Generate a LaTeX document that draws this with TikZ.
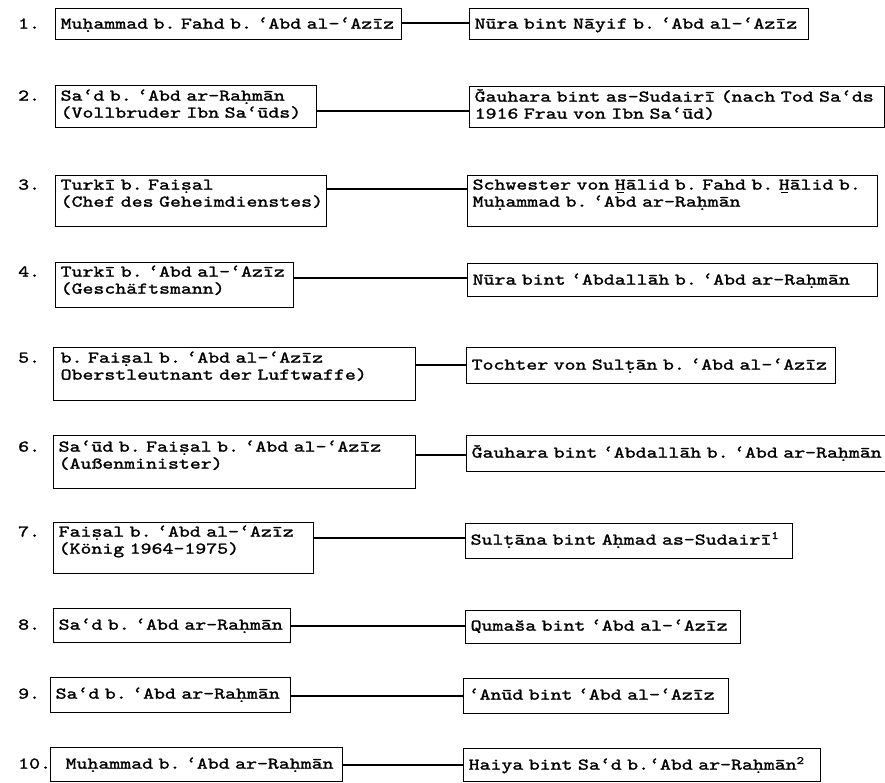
\documentclass[tikz,border=0pt]{standalone}
\usepackage{fontspec}
\newfontfamily\twfam{lmmono10-regular.otf}[FakeStretch=1.27,FakeBold=1.5]
\newcommand\zU[2]{\iffontchar\font"#1\relax\char"#1\relax\else#2\fi}
\newcommand\zdb[1]{\ooalign{#1\cr\hidewidth\rule[-0.22em]{0.11em}{0.11em}\hidewidth\cr}}
\newcommand\zh{\zU{1E25}{\zdb{h}}}
\newcommand\zs{\zU{1E63}{\zdb{s}}}
\newcommand\zt{\zU{1E6D}{\zdb{t}}}
\newcommand\za{\char"2018\relax}
\newcommand\zG{\zU{01E6}{\ooalign{G\cr\hidewidth\raisebox{0.22em}{\char"02C7\relax}\hidewidth\cr}}}
\newcommand\zH{\ooalign{H\cr\hidewidth\rule[-0.2em]{0.42em}{0.07em}\hidewidth\cr}}
\newcommand\zsup[1]{\raisebox{0.35em}{\fontsize{11pt}{11pt}\selectfont #1}}
\newcommand\tw{\twfam\fontsize{16.4pt}{17pt}\selectfont\frenchspacing}
\begin{document}
\begin{tikzpicture}[x=1pt,y=-1pt,
  box/.style={draw, line width=1.3pt, anchor=north west, inner xsep=5pt, inner ysep=0pt, align=left, font=\tw},
  num/.style={anchor=base west, inner sep=0pt, font=\tw},
  conn/.style={line width=1.1pt}]
\fill[white] (0,0) rectangle (885,782);
\useasboundingbox (0,0) rectangle (885,782);
\coordinate (numx) at (18,0);
% row 1
\node[box, text width=336pt, text height=20pt, text depth=11pt] (L1) at (55,8) {\mbox{Mu\zh ammad b. Fahd b. \za Abd al-\za Azīz}};
\node[box, text width=329pt, text height=20pt, text depth=11pt] (R1) at (469,8) {\mbox{Nūra bint Nāyif b. \za Abd al-\za Azīz}};
% row 2
\node[box, text width=251pt, text height=15pt, text depth=27pt] (L2) at (55,85) {\mbox{Sa\za d b. \za Abd ar-Ra\zh mān}\\\mbox{(Vollbruder Ibn Sa\za ūds)}};
\node[box, text width=405pt, text height=15pt, text depth=26pt] (R2) at (469,86) {\mbox{\zG auhara bint as-Sudairī (nach Tod Sa\za ds}\\\mbox{1916 Frau von Ibn Sa\za ūd)}};
% row 3
\node[box, text width=261pt, text height=14pt, text depth=37pt] (L3) at (55,175) {\mbox{Turkī b. Fai\zs al}\\\mbox{(Chef des Geheimdienstes)}};
\node[box, text width=400pt, text height=14pt, text depth=37pt] (R3) at (467,175) {\mbox{Schwester von \zH ālid b. Fahd b. \zH ālid b.}\\\mbox{Mu\zh ammad b. \za Abd ar-Ra\zh mān}};
% row 4
\node[box, text width=228pt, text height=14pt, text depth=31pt] (L4) at (55,262) {\mbox{Turkī b. \za Abd al-\za Azīz}\\\mbox{(Geschäftsmann)}};
\node[box, text width=400pt, text height=21pt, text depth=12pt] (R4) at (467,263) {\mbox{Nūra bint \za Abdallāh b. \za Abd ar-Ra\zh mān}};
% row 5
\node[box, inner xsep=7pt, text width=348pt, text height=15pt, text depth=38pt] (L5) at (53,347) {\mbox{b. Fai\zs al b. \za Abd al-\za Azīz}\\\mbox{Oberstleutnant der Luftwaffe)}};
\node[box, text width=359pt, text height=22pt, text depth=14pt] (R5) at (466,347) {\mbox{Tochter von Sul\zt ān b. \za Abd al-\za Azīz}};
% row 6
\node[box, text width=352pt, text height=16pt, text depth=37pt] (L6) at (53,435) {\mbox{Sa\za ūd b. Fai\zs al b. \za Abd al-\za Azīz}\\\mbox{(Außenminister)}};
\node[box, text width=420pt, text height=22pt, text depth=14pt] (R6) at (466,435) {\mbox{\zG auhara bint \za Abdallāh b. \za Abd ar-Ra\zh mān}};
% row 7
\node[box, text width=250pt, text height=14pt, text depth=37pt] (L7) at (53,522) {\mbox{Fai\zs al b. \za Abd al-\za Azīz}\\\mbox{(König 1964-1975)}};
\node[box, text width=317pt, text height=21pt, text depth=14pt] (R7) at (465,523) {\mbox{Sul\zt āna bint A\zh mad as-Sudairī\zsup{1}}};
% row 8
\node[box, text width=227pt, text height=21pt, text depth=13pt] (L8) at (53,608) {\mbox{Sa\za d b. \za Abd ar-Ra\zh mān}};
\node[box, text width=265pt, text height=20pt, text depth=13pt] (R8) at (465,610) {\mbox{Qumaša bint \za Abd al-\za Azīz}};
% row 9
\node[box, text width=230pt, text height=21pt, text depth=14pt] (L9) at (50,677) {\mbox{Sa\za d b. \za Abd ar-Ra\zh mān}};
\node[box, text width=255pt, text height=21pt, text depth=14pt] (R9) at (463,678) {\mbox{\za Anūd bint \za Abd al-\za Azīz}};
% row 10
\node[box, inner xsep=15pt, text width=262pt, text height=21pt, text depth=13pt] (L10) at (50,747) {\mbox{Mu\zh ammad b. \za Abd ar-Ra\zh mān}};
\node[box, text width=347pt, text height=21pt, text depth=12pt] (R10) at (463,748) {\mbox{Haiya bint Sa\za d b.\za Abd ar-Ra\zh mān\zsup{2}}};
% numbers
\foreach \i in {1,...,10} {\node[num] (n\i) at (L\i.base -| numx) {\i.};}
% connectors
\draw[conn] (L1.east |- 0,23) -- (R1.west |- 0,23);
\draw[conn] (L2.east |- 0,111) -- (R2.west |- 0,111);
\draw[conn] (L3.east |- 0,189) -- (R3.west |- 0,189);
\draw[conn] (L4.east |- 0,278) -- (R4.west |- 0,278);
\draw[conn] (L5.east |- 0,365) -- (R5.west |- 0,365);
\draw[conn] (L6.east |- 0,455) -- (R6.west |- 0,455);
\draw[conn] (L7.east |- 0,538) -- (R7.west |- 0,538);
\draw[conn] (L8.east |- 0,626) -- (R8.west |- 0,626);
\draw[conn] (L9.east |- 0,696) -- (R9.west |- 0,696);
\draw[conn] (L10.east |- 0,765) -- (R10.west |- 0,765);
\end{tikzpicture}
\end{document}
